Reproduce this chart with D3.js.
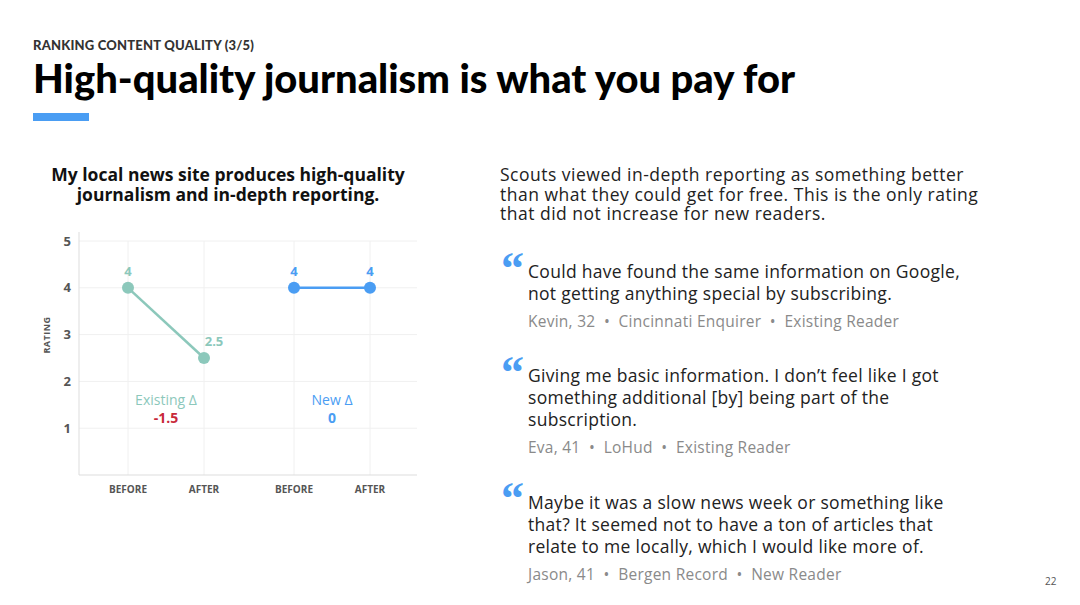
<!DOCTYPE html>
<html><head><meta charset="utf-8">
<script src="https://cdn.jsdelivr.net/npm/d3@7"></script>
<style>
body{margin:0;background:#fff;}
svg{display:block;}
</style></head>
<body>
<svg id="c" width="1080" height="605"></svg>
<script>
const groups = ["Existing", "New"];
const phases = ["BEFORE", "AFTER"];
const existingValues = [4, 2.5];
const newValues = [4, 4];
const deltaLabels = ["Existing Δ", "New Δ"];
const deltaValues = ["-1.5", "0"];
const yTicks = [1, 2, 3, 4, 5];
const seriesColors = ["#8cc8bb", "#4a9df3"];
const deltaColors = ["#c8283a", "#4a9df3"];

const svg = d3.select("#c");
const F = "Lato, 'Open Sans', sans-serif";
const BF = "'Open Sans', sans-serif";

// Header
svg.append("text").attr("x", 33).attr("y", 50).attr("font-family", F).attr("font-weight", 900)
  .attr("font-size", 13).attr("fill", "#333").attr("letter-spacing", 0.2).text("RANKING CONTENT QUALITY (3/5)");
svg.append("text").attr("x", 33).attr("y", 93).attr("font-family", F).attr("font-weight", 900)
  .attr("font-size", 39).attr("fill", "#000").attr("textLength", 762).attr("lengthAdjust", "spacingAndGlyphs")
  .text("High-quality journalism is what you pay for");
svg.append("rect").attr("x", 33).attr("y", 113).attr("width", 56).attr("height", 8).attr("fill", "#4a9df3");

// Chart title
svg.append("text").attr("text-anchor", "middle").attr("font-family", BF).attr("font-weight", 700)
  .attr("font-size", 17.5).attr("fill", "#111")
  .selectAll("tspan").data(["My local news site produces high-quality", "journalism and in-depth reporting."])
  .join("tspan").attr("x", 228).attr("y", (d, i) => 181 + i * 20).text(d => d);

// Scales
const y = d3.scaleLinear().domain([0, 5]).range([475, 241]);
const xg = d3.scaleBand().domain(groups).range([83, 415]);
const xp = d3.scalePoint().domain(phases).range([-38, 38]);
const xc = (g, p) => xg(g) + xg.bandwidth() / 2 + xp(p);

const left = 79, right = 417;
svg.append("g").selectAll("line").data(yTicks).join("line")
  .attr("x1", left).attr("x2", right).attr("y1", d => y(d)).attr("y2", d => y(d))
  .attr("stroke", "#f0f0f0").attr("stroke-width", 1);
const allX = [];
groups.forEach(g => phases.forEach(p => allX.push({g, p})));
svg.append("g").selectAll("line").data(allX).join("line")
  .attr("x1", d => xc(d.g, d.p)).attr("x2", d => xc(d.g, d.p)).attr("y1", y(5)).attr("y2", y(0))
  .attr("stroke", "#f0f0f0").attr("stroke-width", 1);
svg.append("line").attr("x1", left).attr("x2", left).attr("y1", 232).attr("y2", y(0)).attr("stroke", "#ddd");
svg.append("line").attr("x1", left).attr("x2", right).attr("y1", y(0)).attr("y2", y(0)).attr("stroke", "#ddd");

const yAxis = d3.axisLeft(y).tickValues(yTicks).tickFormat(d3.format("d")).tickSize(0).tickPadding(8);
const ya = svg.append("g").attr("transform", `translate(${left},0)`).call(yAxis);
ya.select(".domain").remove();
ya.selectAll("text").attr("font-family", BF).attr("font-weight", 700).attr("font-size", 13).attr("fill", "#555");

svg.append("g").selectAll("text").data(allX).join("text")
  .attr("x", d => xc(d.g, d.p)).attr("y", 493).attr("text-anchor", "middle")
  .attr("font-family", BF).attr("font-weight", 700).attr("font-size", 10).attr("fill", "#555")
  .text(d => d.p);

svg.append("text").attr("transform", "translate(50,335) rotate(-90)").attr("text-anchor", "middle")
  .attr("font-family", BF).attr("font-weight", 700).attr("font-size", 9).attr("fill", "#555")
  .attr("letter-spacing", 0.5).text("RATING");

const series = [existingValues, newValues];
series.forEach((vals, gi) => {
  const g = groups[gi];
  const pts = vals.map((v, i) => ({x: xc(g, phases[i]), y: y(v), v}));
  svg.append("path").attr("d", d3.line().x(d => d.x).y(d => d.y)(pts))
    .attr("stroke", seriesColors[gi]).attr("stroke-width", 2.5).attr("fill", "none");
  svg.append("g").selectAll("circle").data(pts).join("circle")
    .attr("cx", d => d.x).attr("cy", d => d.y).attr("r", 6).attr("fill", seriesColors[gi]);
  svg.append("g").selectAll("text").data(pts).join("text")
    .attr("x", (d, i) => d.x + (gi === 0 && i === 1 ? 10 : 0)).attr("y", d => d.y - 12)
    .attr("text-anchor", "middle").attr("font-family", BF).attr("font-weight", 700)
    .attr("font-size", 13).attr("fill", seriesColors[gi]).text(d => d.v);
  const cx = xg(g) + xg.bandwidth() / 2;
  svg.append("text").attr("x", cx).attr("y", 405).attr("text-anchor", "middle")
    .attr("font-family", BF).attr("font-size", 14).attr("fill", seriesColors[gi]).text(deltaLabels[gi]);
  svg.append("text").attr("x", cx).attr("y", 423).attr("text-anchor", "middle")
    .attr("font-family", BF).attr("font-weight", 700).attr("font-size", 14).attr("fill", deltaColors[gi]).text(deltaValues[gi]);
});

const intro = ["Scouts viewed in-depth reporting as something better", "than what they could get for free. This is the only rating", "that did not increase for new readers."];
svg.append("g").selectAll("text").data(intro).join("text")
  .attr("x", 500).attr("y", (d, i) => 181 + i * 19.5).attr("font-family", BF).attr("font-size", 17.5)
  .attr("letter-spacing", 0.5).attr("fill", "#222").text(d => d);

const quotes = [
  {mark: 252, top: 278, lines: ["Could have found the same information on Google,", "not getting anything special by subscribing."], attr: "Kevin, 32  •  Cincinnati Enquirer  •  Existing Reader"},
  {mark: 356, top: 382, lines: ["Giving me basic information. I don’t feel like I got", "something additional [by] being part of the", "subscription."], attr: "Eva, 41  •  LoHud  •  Existing Reader"},
  {mark: 482, top: 509, lines: ["Maybe it was a slow news week or something like", "that? It seemed not to have a ton of articles that", "relate to me locally,  which I would like more of."], attr: "Jason, 41  •  Bergen Record  •  New Reader"}
];
quotes.forEach(q => {
  svg.append("text").attr("x", 501).attr("y", q.mark + 32).attr("font-family", "'Liberation Serif', serif")
    .attr("font-weight", 700).attr("font-size", 46).attr("fill", "#4a9df3").text("“");
  svg.append("g").selectAll("text").data(q.lines).join("text")
    .attr("x", 528).attr("y", (d, i) => q.top + i * 22).attr("font-family", BF).attr("font-size", 17.5)
    .attr("letter-spacing", 0.3).attr("fill", "#222").text(d => d);
  svg.append("text").attr("x", 528).attr("y", q.top + q.lines.length * 22 + 5)
    .attr("font-family", BF).attr("font-size", 15.5).attr("letter-spacing", 0.25).attr("fill", "#8a8a8a")
    .style("white-space", "pre").text(q.attr);
});

svg.append("text").attr("x", 1045).attr("y", 585).attr("font-family", BF).attr("font-size", 10).attr("fill", "#555").text("22");
</script>
</body></html>
